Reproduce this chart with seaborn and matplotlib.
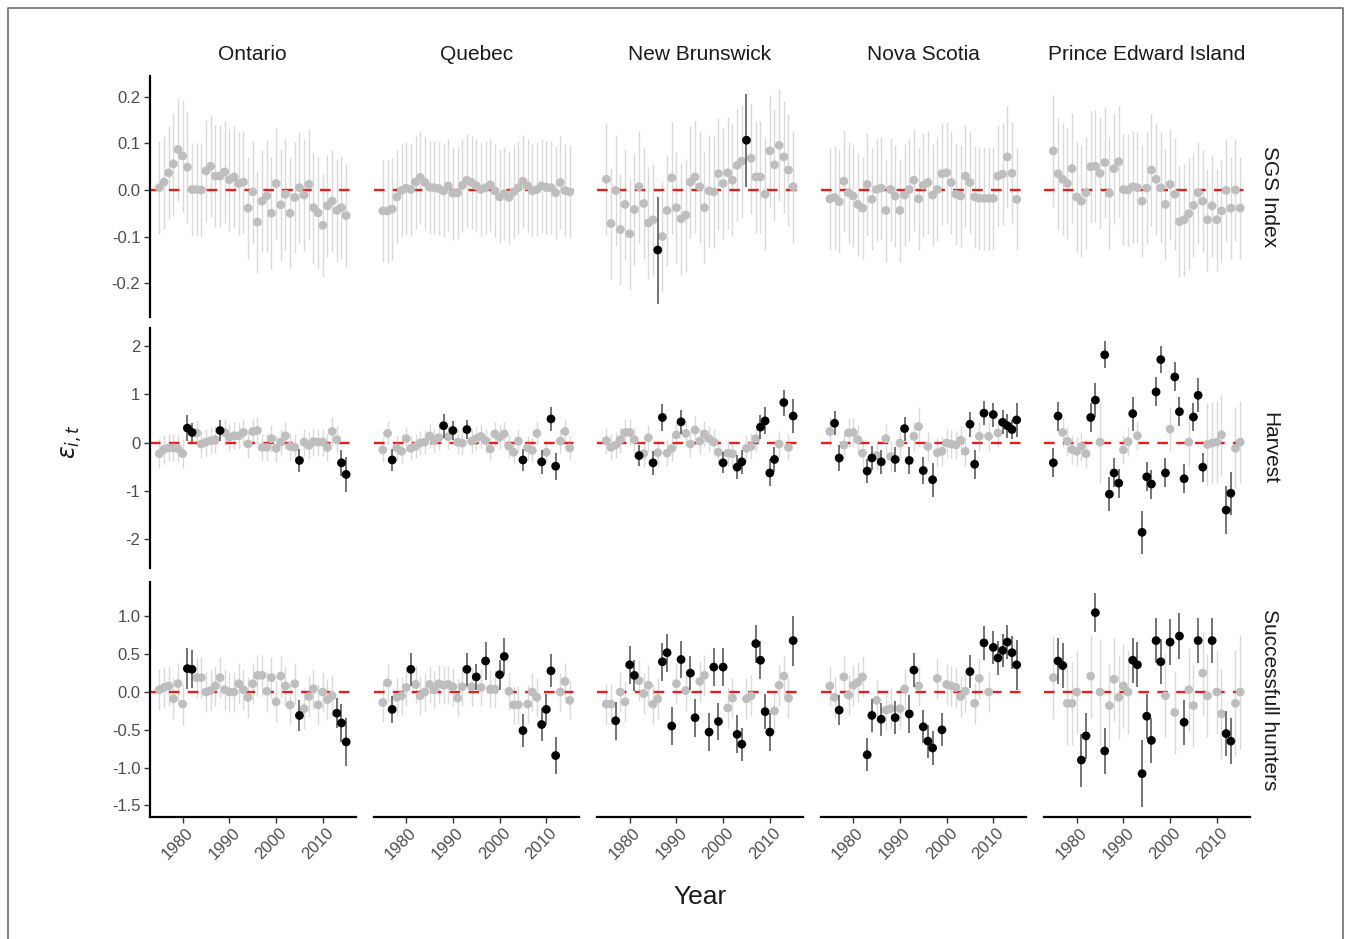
import matplotlib
matplotlib.use("Agg")
import matplotlib.pyplot as plt
import matplotlib.transforms as mtransforms
from matplotlib.lines import Line2D
import numpy as np
import pandas as pd
import seaborn as sns

# ---------------- data ----------------
provinces = ["Ontario", "Quebec", "New Brunswick", "Nova Scotia", "Prince Edward Island"]
measures = ["SGS Index", "Harvest", "Successfull hunters"]
years = list(range(1975, 2016))

# SGS Index
sgs_on = [0.005,0.017,0.037,0.056,0.087,0.073,0.049,0.001,0.001,0.000,
          0.041,0.051,0.030,0.030,0.039,0.022,0.028,0.014,0.017,-0.039,
          -0.004,-0.069,-0.024,-0.013,-0.050,0.014,-0.032,-0.009,-0.050,-0.016,
          0.005,-0.011,0.012,-0.038,-0.049,-0.076,-0.034,-0.024,-0.044,-0.038,
          -0.055]
sgs_qc = [-0.045,-0.045,-0.041,-0.015,-0.001,0.004,0.001,0.017,0.027,0.016,
          0.006,0.005,0.003,-0.002,0.009,-0.007,-0.006,0.010,0.021,0.016,
          0.009,0.001,0.005,0.011,-0.002,-0.015,-0.008,-0.016,-0.004,0.005,
          0.019,0.009,-0.002,0.001,0.009,0.006,0.005,-0.006,0.016,-0.001,
          -0.004]
sgs_nb = [0.023,-0.072,-0.001,-0.085,-0.031,-0.094,-0.042,0.007,-0.029,-0.071,
          -0.064,-0.129,-0.100,-0.044,0.026,-0.038,-0.062,-0.054,0.017,0.028,
          0.007,-0.038,-0.002,-0.004,0.035,0.014,0.037,0.021,0.053,0.062,
          0.107,0.068,0.028,0.028,-0.009,0.084,0.054,0.096,0.071,0.043,
          0.007]
sgs_ns = [-0.019,-0.016,-0.025,0.019,-0.006,-0.013,-0.031,-0.039,0.012,-0.020,
          0.001,0.004,-0.044,0.001,-0.013,-0.044,-0.011,0.001,0.021,-0.019,
          0.010,0.016,-0.011,0.001,0.035,0.037,0.016,-0.009,-0.013,0.030,
          0.016,-0.015,-0.018,-0.018,-0.018,-0.018,0.030,0.034,0.071,0.036,
          -0.020]
sgs_pe = [0.084,0.035,0.023,0.014,0.046,-0.015,-0.024,-0.006,0.050,0.051,
          0.036,0.059,-0.007,0.046,0.061,0.001,0.000,0.007,0.005,-0.024,
          0.004,0.043,0.023,0.005,-0.031,0.012,-0.009,-0.068,-0.064,-0.051,
          -0.033,-0.006,-0.024,-0.064,-0.034,-0.064,-0.045,-0.001,-0.039,0.000,
          -0.039]
sgs_on_hw = [.10,.10,.10,.11,.11,.12,.12,.10,.10,.10, .11,.11,.11,.11,.11,.11,.11,.11,.11,.11,
             .11,.11,.11,.12,.12,.12,.12,.12,.12,.12, .12,.12,.12,.12,.12,.11,.11,.11,.11,.11, .11]
sgs_qc_hw = [.11,.11,.11,.10,.10,.10,.10,.10,.10,.10, .10,.10,.10,.10,.10,.10,.10,.10,.10,.10,
             .10,.10,.10,.10,.10,.10,.10,.10,.10,.10, .10,.10,.10,.10,.10,.10,.10,.10,.10,.10, .10]
sgs_nb_hw = [.12,.12,.12,.12,.12,.12,.12,.12,.12,.12, .12,.115,.12,.12,.12,.12,.12,.12,.12,.12,
             .12,.12,.12,.12,.12,.12,.12,.12,.12,.12, .10,.12,.12,.12,.12,.12,.12,.12,.12,.12, .12]
sgs_ns_hw = [.11,.11,.11,.11,.11,.11,.11,.11,.11,.11, .11,.11,.11,.11,.11,.11,.11,.11,.11,.11,
             .11,.11,.11,.11,.11,.11,.11,.11,.11,.11, .11,.11,.11,.11,.11,.11,.11,.11,.11,.11, .11]
sgs_pe_hw = [.12,.12,.12,.12,.12,.12,.12,.12,.12,.12, .12,.12,.12,.12,.12,.12,.12,.12,.12,.12,
             .12,.12,.12,.12,.12,.12,.12,.12,.12,.12, .11,.11,.11,.11,.11,.11,.11,.11,.11,.11, .11]
sgs_on_sig = []
sgs_qc_sig = []
sgs_nb_sig = [1986, 2005]
sgs_ns_sig = []
sgs_pe_sig = []

# Harvest
har_on = [-0.23,-0.14,-0.11,-0.11,-0.13,-0.23,0.30,0.21,0.20,-0.03,
          0.01,0.04,0.06,0.25,0.21,0.11,0.14,0.14,0.21,-0.03,
          0.23,0.25,-0.10,-0.10,0.08,-0.12,0.01,0.14,-0.08,-0.10,
          -0.37,0.01,-0.06,0.02,0.01,0.01,-0.10,0.23,0.06,-0.42,
          -0.66]
har_qc = [-0.15,0.19,-0.36,-0.11,-0.18,0.08,-0.12,-0.08,-0.01,0.01,
          0.14,0.05,0.10,0.35,0.12,0.25,0.01,-0.01,0.27,0.03,
          0.08,0.13,0.04,-0.13,0.18,0.11,0.18,-0.08,-0.20,0.03,
          -0.36,-0.11,-0.16,0.19,-0.40,-0.20,0.49,-0.49,0.03,0.23,
          -0.11]
har_nb = [0.04,-0.10,-0.05,0.06,0.21,0.21,0.06,-0.27,-0.23,0.10,
          -0.42,-0.21,0.52,-0.22,-0.12,0.16,0.43,0.19,-0.03,0.26,
          0.03,0.18,0.08,0.01,-0.20,-0.42,-0.22,-0.23,-0.51,-0.40,
          -0.12,-0.08,0.08,0.32,0.45,-0.63,-0.35,-0.03,0.83,-0.10,
          0.55]
har_ns = [0.23,0.40,-0.32,-0.05,0.20,0.21,0.06,-0.22,-0.59,-0.32,
          -0.27,-0.40,0.08,-0.29,-0.35,-0.01,0.29,-0.37,0.13,0.33,
          -0.58,-0.08,-0.77,-0.21,-0.18,-0.01,-0.03,-0.05,0.05,-0.18,
          0.38,-0.45,0.13,0.61,0.13,0.58,0.20,0.42,0.35,0.27,
          0.47]
har_pe = [-0.42,0.55,0.21,0.03,-0.14,-0.18,-0.08,-0.23,0.52,0.88,
          0.01,1.82,-1.07,-0.63,-0.84,-0.15,0.02,0.60,0.14,-1.86,
          -0.71,-0.86,1.05,1.72,-0.63,0.28,1.36,0.64,-0.75,0.01,
          0.53,0.98,-0.51,-0.04,-0.01,0.01,0.16,-1.40,-1.05,-0.12,
          0.01]
har_on_hw = [.30,.30,.28,.28,.28,.30,.27,.20,.26,.28, .28,.28,.28,.22,.27,.28,.28,.28,.27,.28,
             .28,.28,.28,.28,.28,.28,.28,.28,.28,.28, .23,.28,.28,.28,.28,.28,.28,.30,.28,.27, .36]
har_qc_hw = [.25,.25,.22,.25,.25,.25,.25,.25,.25,.25, .25,.25,.25,.25,.25,.20,.25,.25,.20,.25,
             .25,.25,.25,.25,.25,.25,.25,.25,.25,.25, .22,.25,.25,.25,.25,.25,.25,.28,.25,.25, .25]
har_nb_hw = [.27,.27,.27,.27,.27,.27,.27,.22,.27,.27, .25,.27,.27,.27,.27,.27,.25,.27,.27,.30,
             .27,.27,.27,.27,.27,.22,.27,.27,.25,.25, .27,.27,.27,.25,.28,.28,.25,.27,.27,.27, .35]
har_ns_hw = [.30,.25,.27,.30,.30,.30,.30,.30,.25,.25, .30,.25,.30,.33,.25,.30,.25,.28,.30,.40,
             .28,.30,.35,.30,.30,.30,.30,.30,.30,.30, .26,.30,.30,.25,.30,.25,.30,.25,.25,.20, .35]
har_pe_hw = [.30,.30,.30,.30,.30,.30,.30,.30,.30,.35, .85,.28,.35,.30,.30,.30,.30,.35,.30,.45,
             .30,.30,.30,.28,.30,.45,.30,.30,.30,.50, .30,.35,.30,.85,.85,.85,.85,.50,.45,.85, .85]
har_on_sig = [1981, 1982, 1988, 2005, 2014, 2015]
har_qc_sig = [1977, 1988, 1990, 1993, 2005, 2009, 2011, 2012]
har_nb_sig = [1982, 1985, 1987, 1991, 2000, 2003, 2004, 2008, 2009, 2010, 2011, 2013, 2015]
har_ns_sig = [1976, 1977, 1983, 1984, 1986, 1989, 1991, 1992, 1995, 1997, 2005, 2006,
              2008, 2010, 2012, 2013, 2014, 2015]
har_pe_sig = [1975, 1976, 1983, 1984, 1986, 1987, 1988, 1989, 1992, 1994, 1995, 1996,
              1997, 1998, 1999, 2001, 2002, 2003, 2005, 2006, 2007, 2012, 2013]

# Successfull hunters
suc_on = [0.03,0.06,0.08,-0.09,0.11,-0.16,0.31,0.30,0.19,0.19,
          0.00,0.02,0.08,0.19,0.03,0.00,0.00,0.11,0.03,-0.07,
          0.11,0.22,0.22,0.01,0.19,-0.13,0.21,0.08,-0.17,0.11,
          -0.31,-0.22,-0.06,0.04,-0.17,0.00,-0.10,-0.05,-0.28,-0.41,
          -0.66]
suc_qc = [-0.14,0.12,-0.23,-0.07,-0.05,0.06,0.30,0.10,-0.05,0.00,
          0.10,0.03,0.11,0.09,0.10,0.07,-0.08,0.07,0.30,0.07,
          0.20,0.06,0.41,0.04,0.04,0.23,0.47,0.01,-0.17,-0.17,
          -0.51,-0.16,0.00,-0.07,-0.43,-0.23,0.28,-0.84,0.00,0.14,
          -0.11]
suc_nb = [-0.16,-0.16,-0.38,0.00,-0.13,0.36,0.22,0.15,-0.02,0.09,
          -0.16,-0.09,0.40,0.52,-0.45,0.11,0.43,0.02,0.25,-0.34,
          0.14,0.22,-0.53,0.33,-0.39,0.33,-0.21,-0.08,-0.56,-0.69,
          -0.09,-0.05,0.64,0.42,-0.26,-0.53,-0.25,0.09,0.21,-0.08,
          0.68]
suc_ns = [0.08,-0.07,-0.24,0.20,-0.04,0.09,0.13,0.20,-0.83,-0.31,
          -0.11,-0.36,-0.24,-0.22,-0.34,-0.22,0.04,-0.29,0.29,0.08,
          -0.46,-0.65,-0.74,0.18,-0.50,0.10,0.08,0.06,-0.06,0.01,
          0.27,-0.15,0.18,0.65,0.00,0.59,0.45,0.55,0.66,0.52,
          0.36]
suc_pe = [0.19,0.41,0.35,-0.15,-0.15,0.00,-0.90,-0.58,0.21,1.05,
          0.00,-0.78,-0.18,0.17,-0.07,0.08,0.00,0.42,0.36,-1.08,
          -0.32,-0.64,0.68,0.40,-0.05,0.66,-0.27,0.74,-0.40,0.03,
          -0.18,0.68,0.25,-0.05,0.68,0.00,-0.29,-0.55,-0.65,-0.15,
          0.00]
suc_on_hw = [.27,.27,.27,.27,.27,.27,.27,.25,.27,.27, .27,.27,.27,.27,.27,.27,.27,.27,.27,.27,
             .27,.27,.27,.27,.27,.27,.27,.27,.27,.27, .21,.27,.27,.27,.27,.27,.27,.27,.20,.25, .32]
suc_qc_hw = [.25,.25,.18,.25,.25,.25,.22,.25,.25,.25, .25,.25,.25,.25,.25,.25,.25,.25,.22,.25,
             .17,.25,.25,.25,.25,.20,.25,.25,.25,.25, .22,.25,.25,.25,.22,.20,.22,.25,.25,.25, .25]
suc_nb_hw = [.27,.27,.25,.27,.27,.25,.20,.27,.27,.27, .27,.27,.25,.25,.25,.27,.25,.27,.22,.25,
             .27,.27,.25,.25,.25,.25,.27,.27,.25,.22, .27,.27,.25,.25,.23,.25,.28,.27,.27,.27, .33]
suc_ns_hw = [.27,.27,.20,.27,.27,.27,.27,.27,.22,.22, .27,.22,.27,.27,.22,.27,.27,.25,.22,.27,
             .22,.22,.22,.27,.22,.27,.27,.27,.27,.27, .22,.27,.27,.22,.27,.22,.22,.22,.22,.22, .33]
suc_pe_hw = [.55,.30,.30,.55,.55,.55,.35,.30,.55,.26, .70,.30,.55,.55,.55,.55,.55,.30,.30,.44,
             .30,.30,.30,.30,.55,.30,.55,.30,.30,.55, .55,.30,.55,.55,.30,.55,.60,.30,.30,.70, .75]
suc_on_sig = [1981, 1982, 2005, 2013, 2014, 2015]
suc_qc_sig = [1977, 1981, 1993, 1995, 1997, 2000, 2001, 2005, 2009, 2010, 2011, 2012]
suc_nb_sig = [1977, 1980, 1981, 1987, 1988, 1989, 1991, 1993, 1994, 1997, 1998, 1999,
              2000, 2003, 2004, 2007, 2008, 2009, 2010, 2015]
suc_ns_sig = [1977, 1983, 1984, 1986, 1989, 1992, 1993, 1995, 1996, 1997, 1999, 2005,
              2008, 2010, 2011, 2012, 2013, 2014, 2015]
suc_pe_sig = [1976, 1977, 1981, 1982, 1984, 1986, 1992, 1993, 1994, 1995, 1996, 1997,
              1998, 2000, 2002, 2003, 2006, 2009, 2012, 2013]

panels = {
    ("SGS Index", "Ontario"): (sgs_on, sgs_on_hw, sgs_on_sig),
    ("SGS Index", "Quebec"): (sgs_qc, sgs_qc_hw, sgs_qc_sig),
    ("SGS Index", "New Brunswick"): (sgs_nb, sgs_nb_hw, sgs_nb_sig),
    ("SGS Index", "Nova Scotia"): (sgs_ns, sgs_ns_hw, sgs_ns_sig),
    ("SGS Index", "Prince Edward Island"): (sgs_pe, sgs_pe_hw, sgs_pe_sig),
    ("Harvest", "Ontario"): (har_on, har_on_hw, har_on_sig),
    ("Harvest", "Quebec"): (har_qc, har_qc_hw, har_qc_sig),
    ("Harvest", "New Brunswick"): (har_nb, har_nb_hw, har_nb_sig),
    ("Harvest", "Nova Scotia"): (har_ns, har_ns_hw, har_ns_sig),
    ("Harvest", "Prince Edward Island"): (har_pe, har_pe_hw, har_pe_sig),
    ("Successfull hunters", "Ontario"): (suc_on, suc_on_hw, suc_on_sig),
    ("Successfull hunters", "Quebec"): (suc_qc, suc_qc_hw, suc_qc_sig),
    ("Successfull hunters", "New Brunswick"): (suc_nb, suc_nb_hw, suc_nb_sig),
    ("Successfull hunters", "Nova Scotia"): (suc_ns, suc_ns_hw, suc_ns_sig),
    ("Successfull hunters", "Prince Edward Island"): (suc_pe, suc_pe_hw, suc_pe_sig),
}

frames = []
for (m, p), (vals, hw, sig) in panels.items():
    frames.append(pd.DataFrame({
        "measure": m, "province": p, "year": years,
        "value": vals, "hw": hw, "sig": [y in sig for y in years],
    }))
df = pd.concat(frames, ignore_index=True)
df["lo"] = df["value"] - df["hw"]
df["hi"] = df["value"] + df["hw"]

# ---------------- style ----------------
sns.set_theme(style="white")
plt.rcParams["font.family"] = ["Liberation Sans", "DejaVu Sans"]
plt.rcParams["axes.unicode_minus"] = False

W, H = 1351, 939
fig = plt.figure(figsize=(W / 100, H / 100), dpi=100)
fig.patch.set_facecolor("white")

col_left = [150, 373.5, 597, 820.5, 1044]
col_w = 205.5
row_box = [(76, 317), (328, 568), (582, 817)]
ylims = [(-0.273, 0.245), (-2.6, 2.375), (-1.653, 1.455)]
yticks = [[-0.2, -0.1, 0.0, 0.1, 0.2], [-2, -1, 0, 1, 2], [-1.5, -1.0, -0.5, 0.0, 0.5, 1.0]]
ytlabels = [["-0.2", "-0.1", "0.0", "0.1", "0.2"], ["-2", "-1", "0", "1", "2"],
            ["-1.5", "-1.0", "-0.5", "0.0", "0.5", "1.0"]]
xticks = [1980, 1990, 2000, 2010]

GRAY_PT = "#bebebe"
GRAY_BAR = "#d9d9d9"
BLACK_BAR = "#4d4d4d"
TXT = "#4d4d4d"
PT = 40

for r, m in enumerate(measures):
    y0, y1 = row_box[r]
    for c, p in enumerate(provinces):
        ax = fig.add_axes([col_left[c] / W, 1 - y1 / H, col_w / W, (y1 - y0) / H])
        ax.set_facecolor("none")
        sub = df[(df.measure == m) & (df.province == p)]
        g = sub[~sub.sig]
        b = sub[sub.sig]
        ax.vlines(g["year"], g["lo"], g["hi"], color=GRAY_BAR, lw=1.0, zorder=1)
        ax.axhline(0, color="#e3201f", lw=1.7, ls=(0, (4.5, 3.5)), zorder=2)
        sns.scatterplot(data=g, x="year", y="value", color=GRAY_PT, s=PT,
                        edgecolor="none", linewidth=0, ax=ax, zorder=3, legend=False)
        if len(b):
            ax.vlines(b["year"], b["lo"], b["hi"], color=BLACK_BAR, lw=1.1, zorder=4)
            sns.scatterplot(data=b, x="year", y="value", color="black", s=PT,
                            edgecolor="none", linewidth=0, ax=ax, zorder=5, legend=False)
        ax.set_xlim(1973, 2017)
        ax.set_ylim(*ylims[r])
        ax.set_xlabel("")
        ax.set_ylabel("")
        for s in ["top", "right"]:
            ax.spines[s].set_visible(False)
        ax.spines["left"].set_visible(c == 0)
        ax.spines["bottom"].set_visible(r == 2)
        for s in ["left", "bottom"]:
            ax.spines[s].set_color("black")
            ax.spines[s].set_linewidth(1.6)
        if c == 0:
            ax.set_yticks(yticks[r])
            ax.set_yticklabels(ytlabels[r])
            ax.tick_params(axis="y", length=4, width=1, color="#333333",
                           labelsize=12, labelcolor=TXT, pad=3, left=True)
        else:
            ax.set_yticks([])
        if r == 2:
            ax.set_xticks(xticks)
            ax.set_xticklabels([str(x) for x in xticks], rotation=45,
                               ha="center", va="top")
            ax.tick_params(axis="x", length=4, width=1, color="#333333",
                           labelsize=12, labelcolor=TXT, pad=2, bottom=True)
            off = mtransforms.ScaledTranslation(-5 / 100, 0, fig.dpi_scale_trans)
            for lab in ax.get_xticklabels():
                lab.set_transform(lab.get_transform() + off)
        else:
            ax.set_xticks([])
        if r == 0:
            fig.text((col_left[c] + col_w / 2) / W, (H - 55) / H, p, ha="center",
                     va="center", fontsize=15, color="#1a1a1a")
    fig.text(1270 / W, 1 - ((y0 + y1) / 2) / H, m, rotation=-90, ha="center",
             va="center", fontsize=15, color="#1a1a1a")

fig.text(700 / W, 1 - 897 / H, "Year", ha="center", va="center", fontsize=19, color="#1a1a1a")
fig.text(72 / W, 1 - 442 / H, r"$\varepsilon_{i,t}$", rotation=90, ha="center",
         va="center", fontsize=17, color="#1a1a1a")

# outer frame (open at the bottom, as in the reference crop)
frame_x = [8 / W, 8 / W, 1343 / W, 1343 / W]
frame_y = [0, 1 - 8 / H, 1 - 8 / H, 0]
fig.add_artist(Line2D(frame_x, frame_y, transform=fig.transFigure, lw=1.2,
                      color="#6e6e6e"))

fig.savefig("out.png", dpi=100, facecolor="white")
